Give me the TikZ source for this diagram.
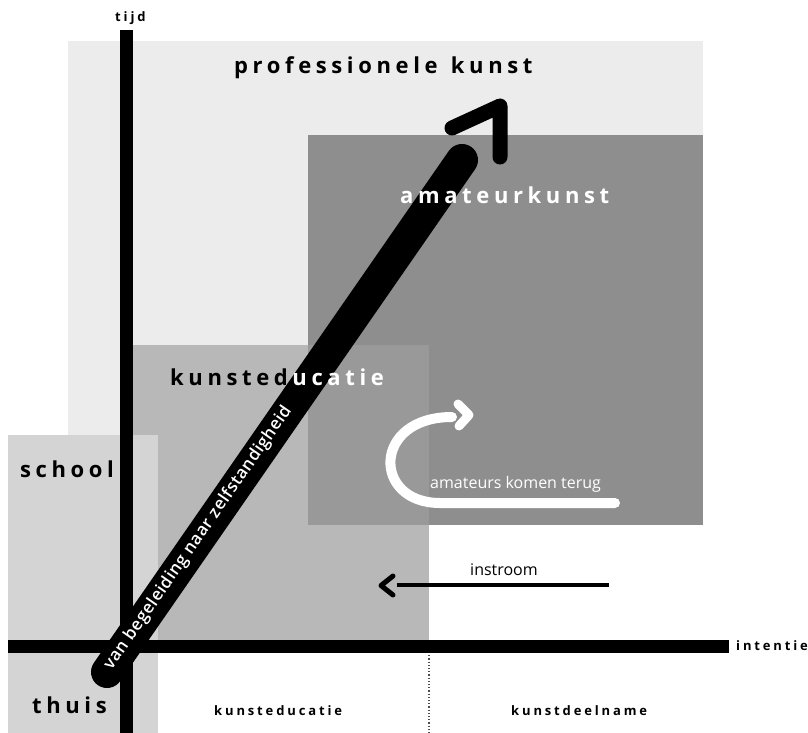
\documentclass[tikz,border=0pt]{standalone}
\usepackage{fontspec}
\setmainfont{Open Sans}
\newfontfamily\lblfont[LetterSpace=21]{Open Sans Bold}
\newfontfamily\smlfont[LetterSpace=22]{Open Sans Bold}
\newfontfamily\arrfont[LetterSpace=3]{Open Sans Semibold}
\newfontfamily\txtfont{Open Sans}
\usetikzlibrary{calc}
\definecolor{profc}{HTML}{ECECEC}
\definecolor{amac}{HTML}{8E8E8E}
\definecolor{kunc}{HTML}{B8B8B8}
\definecolor{ovlc}{HTML}{999999}
\definecolor{schc}{HTML}{D4D4D4}
\tikzset{
  big/.style={anchor=base west, inner sep=0pt, font=\lblfont\fontsize{22}{24}\selectfont},
  small/.style={anchor=base west, inner sep=0pt, font=\smlfont\fontsize{13}{15}\selectfont},
  plain/.style={anchor=base west, inner sep=0pt, font=\txtfont\fontsize{16}{18}\selectfont},
  axis/.style={line width=13pt},
}
\begin{document}
\begin{tikzpicture}[x=1pt,y=-1pt]
\useasboundingbox (0,0) rectangle (808,733);
% areas
\fill[profc] (68,41) rectangle (703,525);
\fill[amac] (308,135) rectangle (703,525);
\fill[kunc] (133,345) rectangle (429,640);
\fill[ovlc] (308,345) rectangle (429,525);
\fill[schc] (8,435) rectangle (158,733);
% dotted divider
\draw[gray!60!black, dotted, line width=1.2pt] (429,652) -- (429,733);
% axes
\coordinate (vtop) at (126.5,30);
\coordinate (vbot) at (126.5,733);
\coordinate (hleft) at (8,646);
\coordinate (hright) at (729,646);
\draw[axis] (vtop) -- (vbot);
\draw[axis] (hleft) -- (hright);
% main arrow
\coordinate (astart) at (107,672);
\coordinate (aend) at (462,160);
\draw[line width=32pt, line cap=round] (astart) -- (aend);
\coordinate (h1) at (452,128);
\coordinate (h2) at (500,106);
\coordinate (h3) at (500,157);
\draw[line width=15pt, line cap=round, line join=round] (h1) -- (h2) -- (h3);
\node[white, inner sep=0pt, font=\arrfont\fontsize{17}{19}\selectfont, rotate=55.3] (atext) at (198,538) {van begeleiding naar zelfstandigheid};
% labels
\node[big] (prof) at (234,74) {professionele\hspace{3pt} kunst};
\node[big, white] (ama) at (400,203) {amateurkunst};
\begin{scope}
\clip (0,300) rectangle (292,420);
\node[big] (kun) at (170,385) {kunsteducatie};
\end{scope}
\begin{scope}
\clip (292,300) rectangle (500,420);
\node[big, white] (kunw) at (170,385) {kunsteducatie};
\end{scope}
\node[big] (school) at (20,477) {school};
\node[big] (thuis) at (32,713) {thuis};
\node[small] (tijd) at (115,22) {tijd};
\node[small] (intentie) at (736,650) {intentie};
\node[small] (kunb) at (214,715) {kunsteducatie};
\node[small] (deel) at (511,715) {kunstdeelname};
% amateurs komen terug
\coordinate (c1) at (615,503);
\coordinate (c2) at (440,503);
\coordinate (c3) at (452,417);
\draw[white, line width=10pt, line cap=round] (c1) -- (c2) .. controls (372,503) and (372,417) .. (c3);
\coordinate (ch1) at (458,404);
\coordinate (ch2) at (469,415);
\coordinate (ch3) at (459,426);
\draw[white, line width=9pt, line cap=round, line join=round] (ch1) -- (ch2) -- (ch3);
\node[plain, white] (terug) at (430,488) {amateurs komen terug};
% instroom
\coordinate (i1) at (609,585);
\coordinate (i2) at (397,585);
\draw[line width=4pt] (i1) -- (i2);
\coordinate (ia) at (393,576);
\coordinate (ib) at (381,585.5);
\coordinate (ic) at (393,595);
\draw[line width=5pt, line cap=round, line join=round] (ia) -- (ib) -- (ic);
\node[plain] (instroom) at (470,575) {instroom};
\end{tikzpicture}
\end{document}
